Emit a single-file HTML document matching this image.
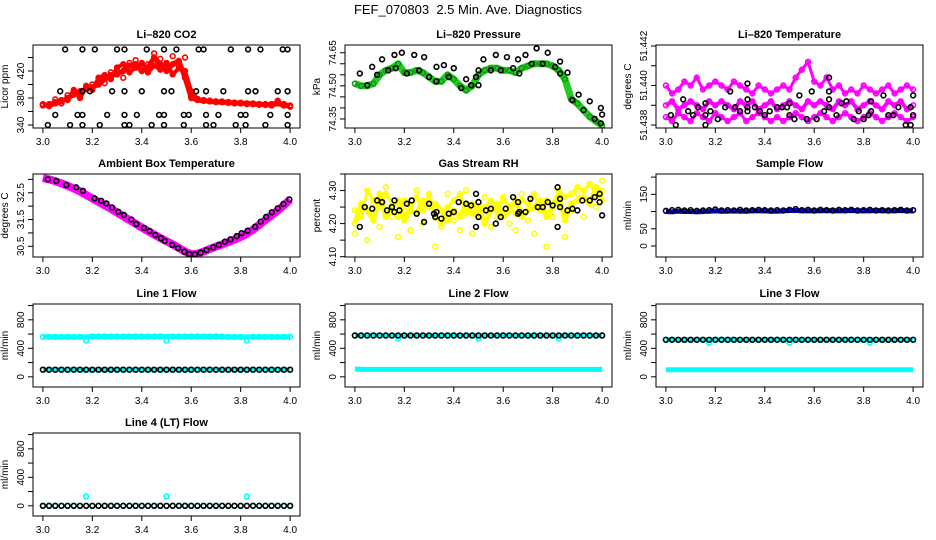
<!DOCTYPE html>
<html><head><meta charset="utf-8"><title>FEF_070803 Diagnostics</title>
<style>
html,body{margin:0;padding:0;background:#fff;}
svg{display:block;font-family:"Liberation Sans",Arial,sans-serif;}
</style></head>
<body>
<svg id="chart" width="936" height="540" viewBox="0 0 936 540">
<rect x="0" y="0" width="936" height="540" fill="#fff"/>
<text x="468" y="14" text-anchor="middle" font-size="13" xml:space="preserve">FEF_070803&#160; 2.5 Min. Ave. Diagnostics</text>
</svg>
<script>
// ---- shared time categories ----
const T=[3.000,3.025,3.050,3.075,3.100,3.125,3.150,3.175,3.200,3.225,3.250,3.275,3.300,3.325,3.350,3.375,3.400,3.425,3.450,3.475,3.500,3.525,3.550,3.575,3.600,3.625,3.650,3.675,3.700,3.725,3.750,3.775,3.800,3.825,3.850,3.875,3.900,3.925,3.950,3.975,4.000];
const xTicks=[3.0,3.2,3.4,3.6,3.8,4.0];
const xTickLabels=["3.0","3.2","3.4","3.6","3.8","4.0"];

// ---- CO2 ----
const co2A=[370,369,372,375,380,385,390,393,396,400,408,414,415,420,428,430,420,425,440,430,420,430,435,410,380,377,376,375,374,374,373,373,372,372,371,371,370,370,372,369,368];
const co2B=[371,368,378,372,384,388,386,398,400,404,402,418,420,410,432,436,424,430,446,438,426,442,428,440,382,379,376,376,375,374,373,372,372,371,371,370,370,369,376,370,367];
const co2C=[369,371,374,377,377,392,380,396,392,410,414,408,425,430,418,425,432,418,428,422,432,415,424,420,390,378,377,376,375,375,374,373,373,372,372,371,371,371,374,371,369];
const co2BT=[3.09,3.16,3.21,3.30,3.33,3.42,3.49,3.54,3.63,3.65,3.76,3.83,3.88,3.97,3.99,3.07,3.16,3.19,3.28,3.33,3.40,3.49,3.52,3.62,3.66,3.73,3.83,3.86,3.95,3.99,3.05,3.14,3.16,3.26,3.33,3.38,3.47,3.49,3.57,3.59,3.66,3.71,3.80,3.82,3.92,3.99,3.02,3.11,3.16,3.23,3.33,3.35,3.44,3.49,3.57,3.66,3.69,3.78,3.82,3.90,3.99];
const co2BV=[452,452,452,452,452,452,452,452,452,452,452,452,452,452,452,390,390,390,390,390,390,390,390,390,390,390,390,390,390,390,355,355,355,355,355,355,355,355,355,355,355,355,355,355,355,355,340,340,340,340,340,340,340,340,340,340,340,340,340,340,340];
const co2Ticks=[340,360,380,400,420,440];
const co2Labels=["340","","380","","420",""];

// ---- Pressure ----
const presA=[74.51,74.50,74.50,74.51,74.55,74.57,74.58,74.60,74.56,74.56,74.57,74.56,74.54,74.52,74.52,74.55,74.53,74.50,74.48,74.50,74.55,74.57,74.58,74.58,74.57,74.57,74.56,74.58,74.59,74.60,74.60,74.60,74.59,74.57,74.53,74.44,74.42,74.39,74.36,74.34,74.32];
const presBT=[3.02,3.05,3.07,3.09,3.11,3.135,3.16,3.165,3.19,3.21,3.24,3.26,3.28,3.30,3.33,3.33,3.36,3.38,3.40,3.43,3.45,3.47,3.49,3.50,3.50,3.52,3.55,3.57,3.59,3.615,3.64,3.66,3.665,3.69,3.715,3.735,3.76,3.78,3.81,3.83,3.83,3.86,3.88,3.905,3.925,3.95,3.97,3.995,4.0,3.995];
const presBV=[74.556,74.503,74.586,74.55,74.62,74.57,74.64,74.58,74.65,74.556,74.64,74.57,74.63,74.54,74.586,74.52,74.594,74.54,74.58,74.49,74.53,74.503,74.54,74.503,74.57,74.62,74.57,74.64,74.57,74.63,74.58,74.62,74.556,74.64,74.60,74.67,74.60,74.65,74.586,74.61,74.556,74.56,74.435,74.46,74.39,74.43,74.35,74.40,74.37,74.33];
const presTicks=[74.35,74.40,74.45,74.50,74.55,74.60,74.65];
const presLabels=["74.35","","","74.50","","","74.65"];

// ---- Li-820 Temperature ----
const tempHi=[51.4400,51.4396,51.4398,51.4402,51.4400,51.4404,51.4398,51.4400,51.4402,51.4400,51.4398,51.4402,51.4400,51.4398,51.4396,51.4400,51.4398,51.4396,51.4398,51.4400,51.4398,51.4404,51.4408,51.4412,51.4402,51.4400,51.4404,51.4398,51.4400,51.4396,51.4398,51.4396,51.4400,51.4398,51.4396,51.4398,51.4400,51.4396,51.4398,51.4400,51.4398];
const tempMid=[51.4390,51.4392,51.4388,51.4390,51.4392,51.4390,51.4388,51.4392,51.4390,51.4392,51.4390,51.4388,51.4392,51.4390,51.4392,51.4388,51.4390,51.4392,51.4388,51.4390,51.4392,51.4390,51.4388,51.4392,51.4390,51.4392,51.4390,51.4388,51.4392,51.4390,51.4392,51.4388,51.4390,51.4392,51.4390,51.4388,51.4392,51.4390,51.4392,51.4388,51.4390];
const tempLo=[51.4384,51.4382,51.4386,51.4384,51.4382,51.4386,51.4384,51.4382,51.4386,51.4384,51.4382,51.4384,51.4386,51.4382,51.4384,51.4386,51.4384,51.4382,51.4384,51.4382,51.4384,51.4386,51.4384,51.4382,51.4384,51.4386,51.4384,51.4382,51.4384,51.4386,51.4384,51.4382,51.4384,51.4386,51.4384,51.4382,51.4384,51.4386,51.4384,51.4382,51.4384];
const tempBT=[3.02,3.04,3.07,3.09,3.11,3.13,3.16,3.16,3.16,3.18,3.21,3.24,3.26,3.28,3.30,3.33,3.33,3.33,3.33,3.36,3.38,3.40,3.42,3.45,3.47,3.49,3.50,3.50,3.52,3.54,3.57,3.59,3.61,3.64,3.66,3.66,3.66,3.66,3.69,3.71,3.73,3.76,3.78,3.80,3.82,3.83,3.83,3.88,3.90,3.92,3.94,3.97,3.99,3.99,4.0,4.0];
const tempBV=[51.4385,51.4380,51.4393,51.4387,51.4385,51.4389,51.4380,51.4385,51.4391,51.4387,51.4383,51.4389,51.4397,51.4389,51.4387,51.4401,51.4393,51.4389,51.4387,51.4389,51.4387,51.4385,51.4387,51.4389,51.4389,51.4389,51.4391,51.4385,51.4383,51.4395,51.4383,51.4397,51.4383,51.4387,51.4404,51.4397,51.4393,51.4389,51.4385,51.4391,51.4392,51.4383,51.4387,51.4383,51.4385,51.4392,51.4387,51.4395,51.4385,51.4385,51.4389,51.4380,51.4380,51.4389,51.4385,51.4395];
const tempTicks=[51.438,51.439,51.440,51.441,51.442];
const tempLabels=["51.438","","51.440","","51.442"];

// ---- Ambient Box Temperature ----
const ambA=[33.05,33.00,32.93,32.85,32.76,32.66,32.55,32.42,32.29,32.16,32.03,31.90,31.76,31.62,31.48,31.34,31.20,31.07,30.94,30.81,30.69,30.57,30.44,30.30,30.20,30.22,30.30,30.40,30.49,30.57,30.66,30.75,30.85,30.97,31.12,31.30,31.48,31.66,31.84,32.03,32.25];
const ambBT=[3.02,3.054,3.095,3.135,3.162,3.209,3.236,3.257,3.28,3.305,3.328,3.358,3.378,3.409,3.432,3.455,3.478,3.493,3.523,3.547,3.572,3.592,3.615,3.638,3.662,3.689,3.712,3.736,3.759,3.784,3.804,3.828,3.858,3.881,3.903,3.926,3.95,3.973,3.997];
const ambBV=[33.0,32.94,32.79,32.70,32.57,32.29,32.2,32.1,31.95,31.79,31.67,31.5,31.33,31.19,31.07,30.92,30.80,30.70,30.55,30.43,30.30,30.21,30.20,30.26,30.36,30.46,30.55,30.67,30.76,30.88,30.99,31.08,31.23,31.42,31.60,31.77,31.92,32.08,32.25];
const ambTicks=[30.5,31.0,31.5,32.0,32.5,33.0];
const ambLabels=["30.5","","31.5","","32.5",""];

// ---- Gas Stream RH ----
const rhA=[4.24,4.22,4.30,4.27,4.25,4.29,4.26,4.22,4.27,4.25,4.28,4.24,4.29,4.22,4.20,4.25,4.27,4.29,4.23,4.26,4.22,4.25,4.27,4.24,4.28,4.25,4.23,4.27,4.26,4.29,4.24,4.27,4.26,4.30,4.28,4.29,4.31,4.30,4.32,4.29,4.30];
const rhB=[4.20,4.26,4.24,4.21,4.29,4.22,4.25,4.27,4.21,4.24,4.23,4.27,4.25,4.26,4.24,4.21,4.24,4.22,4.26,4.23,4.25,4.20,4.24,4.26,4.22,4.24,4.27,4.22,4.24,4.25,4.27,4.22,4.25,4.28,4.21,4.26,4.27,4.28,4.26,4.31,4.27];
const rhC=[4.17,4.23,4.15,4.26,4.19,4.31,4.22,4.16,4.24,4.18,4.30,4.20,4.26,4.13,4.19,4.29,4.21,4.18,4.30,4.17,4.24,4.28,4.19,4.22,4.27,4.20,4.18,4.29,4.21,4.17,4.24,4.13,4.22,4.26,4.16,4.24,4.29,4.22,4.27,4.25,4.33];
const rhBT=[3.02,3.04,3.07,3.09,3.11,3.13,3.15,3.16,3.16,3.18,3.21,3.23,3.25,3.28,3.30,3.32,3.325,3.33,3.35,3.38,3.40,3.42,3.45,3.47,3.49,3.49,3.50,3.50,3.53,3.55,3.57,3.59,3.61,3.64,3.66,3.665,3.66,3.69,3.71,3.74,3.76,3.78,3.80,3.82,3.83,3.83,3.82,3.86,3.88,3.90,3.92,3.95,3.97,3.99,3.99,4.0];
const rhBV=[4.19,4.25,4.245,4.27,4.265,4.24,4.25,4.27,4.235,4.24,4.26,4.27,4.23,4.205,4.26,4.23,4.22,4.235,4.215,4.23,4.235,4.265,4.26,4.255,4.29,4.19,4.265,4.22,4.24,4.245,4.20,4.22,4.245,4.28,4.265,4.235,4.23,4.235,4.275,4.25,4.25,4.265,4.255,4.31,4.25,4.275,4.19,4.24,4.245,4.24,4.27,4.27,4.28,4.265,4.29,4.225];
const rhTicks=[4.10,4.15,4.20,4.25,4.30,4.35];
const rhLabels=["4.10","","4.20","","4.30",""];

// ---- Sample Flow ----
const sfBlue=[100,99,101,100,100,99,100,101,102,101,101,102,101,101,102,102,102,101,101,102,103,103,102,102,102,102,103,102,102,102,103,102,102,102,103,102,102,102,103,102,102];
const sfBlack=[102,104,105,103,104,102,103,104,106,103,104,103,105,103,104,105,104,103,104,103,105,107,104,105,103,105,104,103,105,104,105,103,104,105,103,104,103,104,105,103,104];
const sfTicks=[0,50,100,150,200];
const sfLabels=["0","50","","150",""];

// ---- Line flows ----
const l1Cyan=[560,560,560,560,560,560,560,510,565,565,565,565,565,565,565,565,565,565,565,565,510,565,565,565,565,565,565,565,565,565,560,560,560,510,560,560,560,560,560,560,560];
const l1Base=[560,560,560,560,560,560,560,560,565,565,565,565,565,565,565,565,565,565,565,565,565,565,565,565,565,565,565,565,565,565,560,560,560,560,560,560,560,560,560,560,560];
const l1CyanLo=[100,100,100,100,100,100,100,100,100,100,100,100,100,100,100,100,100,100,100,100,100,100,100,100,100,100,100,100,100,100,100,100,100,100,100,100,100,100,100,100,100];
const l1Black=[100,100,100,100,100,100,100,100,100,100,100,100,100,100,100,100,100,100,100,100,100,100,100,100,100,100,100,100,100,100,100,100,100,100,100,100,100,100,100,100,100];
const l2Cyan=[580,580,580,580,580,580,580,540,580,580,580,580,580,580,580,580,580,580,580,580,540,580,580,580,580,580,580,580,580,580,580,580,580,540,580,580,580,580,580,580,580];
const l2Base=[580,580,580,580,580,580,580,580,580,580,580,580,580,580,580,580,580,580,580,580,580,580,580,580,580,580,580,580,580,580,580,580,580,580,580,580,580,580,580,580,580];
const l2CyanLo=[110,105,105,105,105,105,105,105,105,105,105,105,105,105,105,105,105,105,105,105,105,105,105,105,105,105,105,105,105,105,105,105,105,105,105,105,105,105,105,105,105];
const l2Black=[580,580,580,580,580,580,580,580,580,580,580,580,580,580,580,580,580,580,580,580,580,580,580,580,580,580,580,580,580,580,580,580,580,580,580,580,580,580,580,580,580];
const l3Cyan=[520,520,520,520,520,520,520,480,520,520,520,520,520,520,520,520,520,520,520,520,480,520,520,520,520,520,520,520,520,520,520,520,520,480,520,520,520,520,520,520,520];
const l3Base=[520,520,520,520,520,520,520,520,520,520,520,520,520,520,520,520,520,520,520,520,520,520,520,520,520,520,520,520,520,520,520,520,520,520,520,520,520,520,520,520,520];
const l3CyanLo=[100,100,100,100,100,100,100,100,100,100,100,100,100,100,100,100,100,100,100,100,100,100,100,100,100,100,100,100,100,100,100,100,100,100,100,100,100,100,100,100,100];
const l3Black=[520,520,520,520,520,520,520,520,520,520,520,520,520,520,520,520,520,520,520,520,520,520,520,520,520,520,520,520,520,520,520,520,520,520,520,520,520,520,520,520,520];
const l4Cyan=[0,0,0,0,0,0,0,130,0,0,0,0,0,0,0,0,0,0,0,0,130,0,0,0,0,0,0,0,0,0,0,0,0,130,0,0,0,0,0,0,0];
const l4Black=[0,0,0,0,0,0,0,0,0,0,0,0,0,0,0,0,0,0,0,0,0,0,0,0,0,0,0,0,0,0,0,0,0,0,0,0,0,0,0,0,0];
const flowTicks=[0,200,400,600,800,1000];
const flowLabels=["0","","400","","800",""];

const svg=document.getElementById('chart');
const NS='http://www.w3.org/2000/svg';
function el(tag,parent){const e=document.createElementNS(NS,tag);parent.appendChild(e);return e;}

function panel(name,box,yd,yTicks,yLabels,title,ylab){
  const g=el('g',svg);
  
  
  const p={g:g,x:box[0],y:box[1],w:267,h:83,yd:yd};
  p.sx=t=>p.x+(t-2.96)/1.08*p.w;
  p.sy=v=>p.y+p.h-(v-yd[0])/(yd[1]-yd[0])*p.h;
  const clip=el('clipPath',g);clip.setAttribute('id','clip-'+name);
  const cr=el('rect',clip);cr.setAttribute('x',p.x);cr.setAttribute('y',p.y);cr.setAttribute('width',p.w);cr.setAttribute('height',p.h);
  p.plot=el('g',g);p.plot.setAttribute('clip-path','url(#clip-'+name+')');
  
  
  const tt=el('text',g);tt.textContent=title;
  
  
  tt.setAttribute('x',p.x+p.w/2);tt.setAttribute('y',p.y-7);tt.setAttribute('text-anchor','middle');tt.setAttribute('font-size','11');tt.setAttribute('font-weight','bold');
  const yl=el('text',g);yl.textContent=ylab;
  
  
  const ylx=p.x-25,yly=p.y+p.h/2;
  yl.setAttribute('x',ylx);yl.setAttribute('y',yly);yl.setAttribute('text-anchor','middle');yl.setAttribute('font-size','10');yl.setAttribute('transform','rotate(-90 '+ylx+' '+yly+')');
  xTicks.forEach((t,i)=>{
    const X=p.sx(t);
    const tk=el('line',g);
    
    
    tk.setAttribute('x1',X);tk.setAttribute('x2',X);tk.setAttribute('y1',p.y+p.h);tk.setAttribute('y2',p.y+p.h+5);tk.setAttribute('stroke','#000');
    const lb=el('text',g);lb.textContent=xTickLabels[i];
    
    
    lb.setAttribute('x',X);lb.setAttribute('y',p.y+p.h+17);lb.setAttribute('text-anchor','middle');lb.setAttribute('font-size','10');
  });
  yTicks.forEach((v,i)=>{
    const Y=p.sy(v);
    const tk=el('line',g);
    
    
    tk.setAttribute('x1',p.x);tk.setAttribute('x2',p.x-5);tk.setAttribute('y1',Y);tk.setAttribute('y2',Y);tk.setAttribute('stroke','#000');
    if(yLabels[i]){
      const lb=el('text',g);lb.textContent=yLabels[i];
      
      
      const lx=p.x-9;
      lb.setAttribute('x',lx);lb.setAttribute('y',Y);lb.setAttribute('text-anchor','middle');lb.setAttribute('font-size','10');
      lb.setAttribute('transform','rotate(-90 '+lx+' '+Y+')');
    }
  });
  const bx=el('rect',g);
  
  
  bx.setAttribute('x',p.x);bx.setAttribute('y',p.y);bx.setAttribute('width',p.w);bx.setAttribute('height',p.h);bx.setAttribute('fill','none');bx.setAttribute('stroke','#000');
  return p;
}
function band(p,ts,vs,color,w,nm){
  const pl=el('polyline',p.plot);
  
  
  pl.setAttribute('points',ts.map((t,i)=>p.sx(t)+','+p.sy(vs[i])).join(' '));
  pl.setAttribute('fill','none');pl.setAttribute('stroke',color);pl.setAttribute('stroke-width',w);pl.setAttribute('stroke-linejoin','round');
}
function pts(p,ts,vs,color,nm){
  ts.forEach((t,i)=>{
    const c=el('circle',p.plot);
    
    
    c.setAttribute('cx',p.sx(t));c.setAttribute('cy',p.sy(vs[i]));c.setAttribute('r','2.4');
    c.setAttribute('fill','none');c.setAttribute('stroke',color);c.setAttribute('stroke-width','1.6');
  });
}
const C1=33,C2=345,C3=656,R1=45,R2=174,R3=304,R4=433;

let p=panel('co2',[C1,R1],[335.6,458.5],co2Ticks,co2Labels,'Li\u2013820 CO2','Licor ppm');
band(p,T,co2A,'#ff0000',5,'co2-band');band(p,T,co2C,'#ff0000',4,'co2-band');
pts(p,T,co2A,'#ff0000','co2-point');pts(p,T,co2B,'#ff0000','co2-point');pts(p,T,co2C,'#ff0000','co2-point');
pts(p,co2BT,co2BV,'#000','co2-reference-point');

p=panel('pressure',[C2,R1],[74.309,74.685],presTicks,presLabels,'Li\u2013820 Pressure','kPa');
band(p,T,presA,'#22cc22',7,'pressure-band');pts(p,T,presA,'#119911','pressure-point');
pts(p,presBT,presBV,'#000','pressure-reference-point');

p=panel('li820-temp',[C3,R1],[51.43785,51.44205],tempTicks,tempLabels,'Li\u2013820 Temperature','degrees C');
band(p,T,tempHi,'#ff00ff',3,'temp-band');band(p,T,tempLo,'#ff00ff',3,'temp-band');
pts(p,T,tempHi,'#ff00ff','temp-point');pts(p,T,tempMid,'#ff00ff','temp-point');pts(p,T,tempLo,'#ff00ff','temp-point');
band(p,T,tempMid,'#ff00ff',4,'temp-band');
pts(p,tempBT,tempBV,'#000','temp-reference-point');

p=panel('ambient-temp',[C1,R2],[30.10,33.20],ambTicks,ambLabels,'Ambient Box Temperature','degrees C');
band(p,T,ambA,'#ff00ff',8,'ambient-band');
pts(p,ambBT,ambBV,'#000','ambient-reference-point');

p=panel('rh',[C2,R2],[4.099,4.350],rhTicks,rhLabels,'Gas Stream RH','percent');
pts(p,T,rhA,'#ffff00','rh-point');pts(p,T,rhB,'#ffff00','rh-point');pts(p,T,rhC,'#ffff00','rh-point');
band(p,T,rhB,'#ffff00',5,'rh-band');band(p,T,rhA,'#ffff00',3,'rh-band');
pts(p,rhBT,rhBV,'#000','rh-reference-point');

p=panel('sample-flow',[C3,R2],[-32,209],sfTicks,sfLabels,'Sample Flow','ml/min');
band(p,T,sfBlue,'#0000ff',5,'sample-flow-band');
pts(p,T,sfBlack,'#000','sample-flow-reference-point');

p=panel('line1-flow',[C1,R3],[-143,1022],flowTicks,flowLabels,'Line 1 Flow','ml/min');
band(p,T,l1Base,'#00ffff',5,'line1-band');pts(p,T,l1Cyan,'#00ffff','line1-point');
band(p,T,l1CyanLo,'#00ffff',5,'line1-low-band');
pts(p,T,l1Black,'#000','line1-reference-point');

p=panel('line2-flow',[C2,R3],[-143,1022],flowTicks,flowLabels,'Line 2 Flow','ml/min');
band(p,T,l2Base,'#00ffff',5,'line2-band');pts(p,T,l2Cyan,'#00ffff','line2-point');
band(p,T,l2CyanLo,'#00ffff',5,'line2-low-band');
pts(p,T,l2Black,'#000','line2-reference-point');

p=panel('line3-flow',[C3,R3],[-143,1022],flowTicks,flowLabels,'Line 3 Flow','ml/min');
band(p,T,l3Base,'#00ffff',5,'line3-band');pts(p,T,l3Cyan,'#00ffff','line3-point');
band(p,T,l3CyanLo,'#00ffff',5,'line3-low-band');
pts(p,T,l3Black,'#000','line3-reference-point');

p=panel('line4-flow',[C1,R4],[-143,1022],flowTicks,flowLabels,'Line 4 (LT) Flow','ml/min');
pts(p,T,l4Cyan,'#00ffff','line4-point');
pts(p,T,l4Black,'#000','line4-reference-point');
</script>
</body></html>
